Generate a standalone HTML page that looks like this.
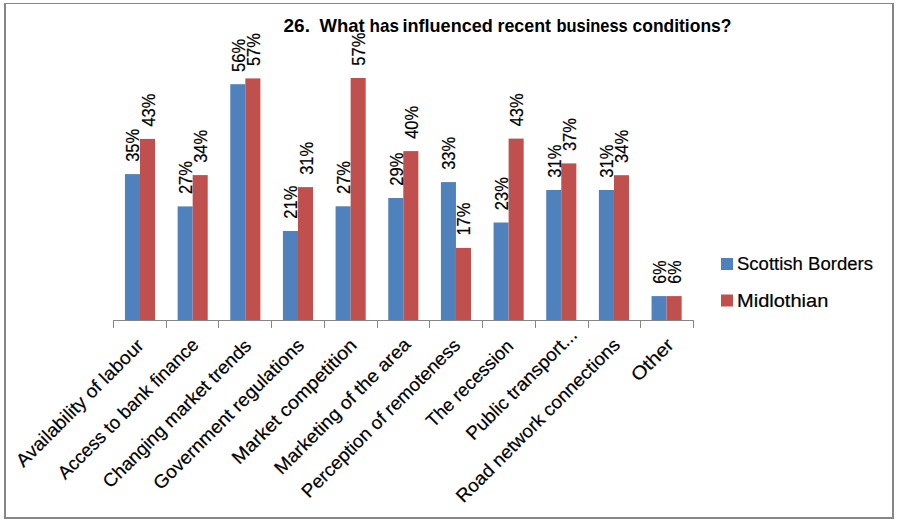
<!DOCTYPE html>
<html><head><meta charset="utf-8"><style>
html,body{margin:0;padding:0;background:#fff;}
svg{display:block;}
text{font-family:"Liberation Sans",sans-serif;fill:#000;white-space:pre;stroke:#000;stroke-width:0.2px;}
text.t{stroke:none;}
</style></head><body>
<svg width="898" height="522" viewBox="0 0 898 522">
<rect x="0" y="0" width="898" height="522" fill="#fff"/>
<rect x="4" y="3" width="2" height="516" fill="#868686"/>
<rect x="4" y="3" width="890" height="1" fill="#868686"/>
<rect x="892" y="3" width="2" height="516" fill="#868686"/>
<rect x="4" y="517" width="890" height="2" fill="#868686"/>
<rect x="124.95" y="174.10" width="15.05" height="145.90" fill="#4F81BD"/>
<rect x="140.00" y="138.90" width="15.05" height="181.10" fill="#C0504D"/>
<rect x="177.61" y="206.40" width="15.05" height="113.60" fill="#4F81BD"/>
<rect x="192.66" y="175.10" width="15.05" height="144.90" fill="#C0504D"/>
<rect x="230.27" y="84.20" width="15.05" height="235.80" fill="#4F81BD"/>
<rect x="245.32" y="78.40" width="15.05" height="241.60" fill="#C0504D"/>
<rect x="282.93" y="231.00" width="15.05" height="89.00" fill="#4F81BD"/>
<rect x="297.98" y="187.10" width="15.05" height="132.90" fill="#C0504D"/>
<rect x="335.59" y="206.30" width="15.05" height="113.70" fill="#4F81BD"/>
<rect x="350.64" y="78.00" width="15.05" height="242.00" fill="#C0504D"/>
<rect x="388.25" y="198.00" width="15.05" height="122.00" fill="#4F81BD"/>
<rect x="403.30" y="151.10" width="15.05" height="168.90" fill="#C0504D"/>
<rect x="440.91" y="182.10" width="15.05" height="137.90" fill="#4F81BD"/>
<rect x="455.96" y="247.90" width="15.05" height="72.10" fill="#C0504D"/>
<rect x="493.57" y="222.50" width="15.05" height="97.50" fill="#4F81BD"/>
<rect x="508.62" y="138.60" width="15.05" height="181.40" fill="#C0504D"/>
<rect x="546.23" y="190.00" width="15.05" height="130.00" fill="#4F81BD"/>
<rect x="561.28" y="163.40" width="15.05" height="156.60" fill="#C0504D"/>
<rect x="598.89" y="190.00" width="15.05" height="130.00" fill="#4F81BD"/>
<rect x="613.94" y="175.20" width="15.05" height="144.80" fill="#C0504D"/>
<rect x="651.55" y="296.10" width="15.05" height="23.90" fill="#4F81BD"/>
<rect x="666.60" y="296.10" width="15.05" height="23.90" fill="#C0504D"/>
<rect x="113.0" y="320" width="581" height="1" fill="#868686"/>
<rect x="113" y="320" width="1" height="8" fill="#868686"/>
<rect x="166" y="320" width="1" height="8" fill="#868686"/>
<rect x="218" y="320" width="1" height="8" fill="#868686"/>
<rect x="271" y="320" width="1" height="8" fill="#868686"/>
<rect x="324" y="320" width="1" height="8" fill="#868686"/>
<rect x="377" y="320" width="1" height="8" fill="#868686"/>
<rect x="429" y="320" width="1" height="8" fill="#868686"/>
<rect x="482" y="320" width="1" height="8" fill="#868686"/>
<rect x="535" y="320" width="1" height="8" fill="#868686"/>
<rect x="588" y="320" width="1" height="8" fill="#868686"/>
<rect x="640" y="320" width="1" height="8" fill="#868686"/>
<rect x="693" y="320" width="1" height="8" fill="#868686"/>
<text transform="translate(139.47,161.80) rotate(-90)" font-size="18" textLength="33" lengthAdjust="spacingAndGlyphs">35%</text>
<text transform="translate(154.53,126.60) rotate(-90)" font-size="18" textLength="33" lengthAdjust="spacingAndGlyphs">43%</text>
<text transform="translate(192.14,194.10) rotate(-90)" font-size="18" textLength="33" lengthAdjust="spacingAndGlyphs">27%</text>
<text transform="translate(207.19,162.80) rotate(-90)" font-size="18" textLength="33" lengthAdjust="spacingAndGlyphs">34%</text>
<text transform="translate(244.79,71.90) rotate(-90)" font-size="18" textLength="33" lengthAdjust="spacingAndGlyphs">56%</text>
<text transform="translate(259.84,66.10) rotate(-90)" font-size="18" textLength="33" lengthAdjust="spacingAndGlyphs">57%</text>
<text transform="translate(297.45,218.70) rotate(-90)" font-size="18" textLength="33" lengthAdjust="spacingAndGlyphs">21%</text>
<text transform="translate(312.50,174.80) rotate(-90)" font-size="18" textLength="33" lengthAdjust="spacingAndGlyphs">31%</text>
<text transform="translate(350.11,194.00) rotate(-90)" font-size="18" textLength="33" lengthAdjust="spacingAndGlyphs">27%</text>
<text transform="translate(365.16,65.70) rotate(-90)" font-size="18" textLength="33" lengthAdjust="spacingAndGlyphs">57%</text>
<text transform="translate(402.77,185.70) rotate(-90)" font-size="18" textLength="33" lengthAdjust="spacingAndGlyphs">29%</text>
<text transform="translate(417.82,138.80) rotate(-90)" font-size="18" textLength="33" lengthAdjust="spacingAndGlyphs">40%</text>
<text transform="translate(455.43,169.80) rotate(-90)" font-size="18" textLength="33" lengthAdjust="spacingAndGlyphs">33%</text>
<text transform="translate(470.48,235.60) rotate(-90)" font-size="18" textLength="33" lengthAdjust="spacingAndGlyphs">17%</text>
<text transform="translate(508.09,210.20) rotate(-90)" font-size="18" textLength="33" lengthAdjust="spacingAndGlyphs">23%</text>
<text transform="translate(523.14,126.30) rotate(-90)" font-size="18" textLength="33" lengthAdjust="spacingAndGlyphs">43%</text>
<text transform="translate(560.75,177.70) rotate(-90)" font-size="18" textLength="33" lengthAdjust="spacingAndGlyphs">31%</text>
<text transform="translate(575.81,151.10) rotate(-90)" font-size="18" textLength="33" lengthAdjust="spacingAndGlyphs">37%</text>
<text transform="translate(613.41,177.70) rotate(-90)" font-size="18" textLength="33" lengthAdjust="spacingAndGlyphs">31%</text>
<text transform="translate(628.47,162.90) rotate(-90)" font-size="18" textLength="33" lengthAdjust="spacingAndGlyphs">34%</text>
<text transform="translate(666.07,283.80) rotate(-90)" font-size="18" textLength="23.3" lengthAdjust="spacingAndGlyphs">6%</text>
<text transform="translate(681.12,283.80) rotate(-90)" font-size="18" textLength="23.3" lengthAdjust="spacingAndGlyphs">6%</text>
<text transform="translate(144.78,346.72) rotate(-45)" font-size="18.5" text-anchor="end" textLength="171.45" lengthAdjust="spacingAndGlyphs">Availability of labour</text>
<text transform="translate(199.67,345.88) rotate(-45)" font-size="18.5" text-anchor="end" textLength="190.07" lengthAdjust="spacingAndGlyphs">Access to bank finance</text>
<text transform="translate(252.48,346.97) rotate(-45)" font-size="18.5" text-anchor="end" textLength="200.99" lengthAdjust="spacingAndGlyphs">Changing market trends</text>
<text transform="translate(305.21,346.47) rotate(-45)" font-size="18.5" text-anchor="end" textLength="204.17" lengthAdjust="spacingAndGlyphs">Government regulations</text>
<text transform="translate(357.94,346.47) rotate(-45)" font-size="18.5" text-anchor="end" textLength="167.96" lengthAdjust="spacingAndGlyphs">Market competition</text>
<text transform="translate(411.75,345.55) rotate(-45)" font-size="18.5" text-anchor="end" textLength="183.84" lengthAdjust="spacingAndGlyphs">Marketing of the area</text>
<text transform="translate(461.39,346.47) rotate(-45)" font-size="18.5" text-anchor="end" textLength="215.41" lengthAdjust="spacingAndGlyphs">Perception of remoteness</text>
<text transform="translate(514.45,347.30) rotate(-45)" font-size="18.5" text-anchor="end" textLength="114.44" lengthAdjust="spacingAndGlyphs">The recession</text>
<text transform="translate(578.27,336.38) rotate(-45)" font-size="18.5" text-anchor="end" textLength="148.02" lengthAdjust="spacingAndGlyphs">Public transport...</text>
<text transform="translate(621.16,346.05) rotate(-45)" font-size="18.5" text-anchor="end" textLength="222.8" lengthAdjust="spacingAndGlyphs">Road network connections</text>
<text transform="translate(674.97,346.13) rotate(-45)" font-size="18.5" text-anchor="end" textLength="51.58" lengthAdjust="spacingAndGlyphs">Other</text>
<rect x="721" y="258" width="12" height="12" fill="#4F81BD"/>
<rect x="721" y="294.5" width="12" height="12" fill="#C0504D"/>
<text x="737.0" y="269.6" font-size="18" textLength="135.93" lengthAdjust="spacingAndGlyphs">Scottish Borders</text>
<text x="737.0" y="306.6" font-size="18" textLength="91.28" lengthAdjust="spacingAndGlyphs">Midlothian</text>
<text class="t" x="283.5" y="31.8" font-size="19" font-weight="bold" textLength="26.44" lengthAdjust="spacingAndGlyphs">26.</text>
<text class="t" x="319.5" y="31.8" font-size="19" font-weight="bold" textLength="45.28" lengthAdjust="spacingAndGlyphs">What</text>
<text class="t" x="369.5" y="31.8" font-size="19" font-weight="bold" textLength="29.38" lengthAdjust="spacingAndGlyphs">has</text>
<text class="t" x="402.5" y="31.8" font-size="19" font-weight="bold" textLength="90.28" lengthAdjust="spacingAndGlyphs">influenced</text>
<text class="t" x="497.5" y="31.8" font-size="19" font-weight="bold" textLength="53.53" lengthAdjust="spacingAndGlyphs">recent</text>
<text class="t" x="556.5" y="31.8" font-size="19" font-weight="bold" textLength="71.27" lengthAdjust="spacingAndGlyphs">business</text>
<text class="t" x="632.5" y="31.8" font-size="19" font-weight="bold" textLength="98.93" lengthAdjust="spacingAndGlyphs">conditions?</text>
</svg>
</body></html>
